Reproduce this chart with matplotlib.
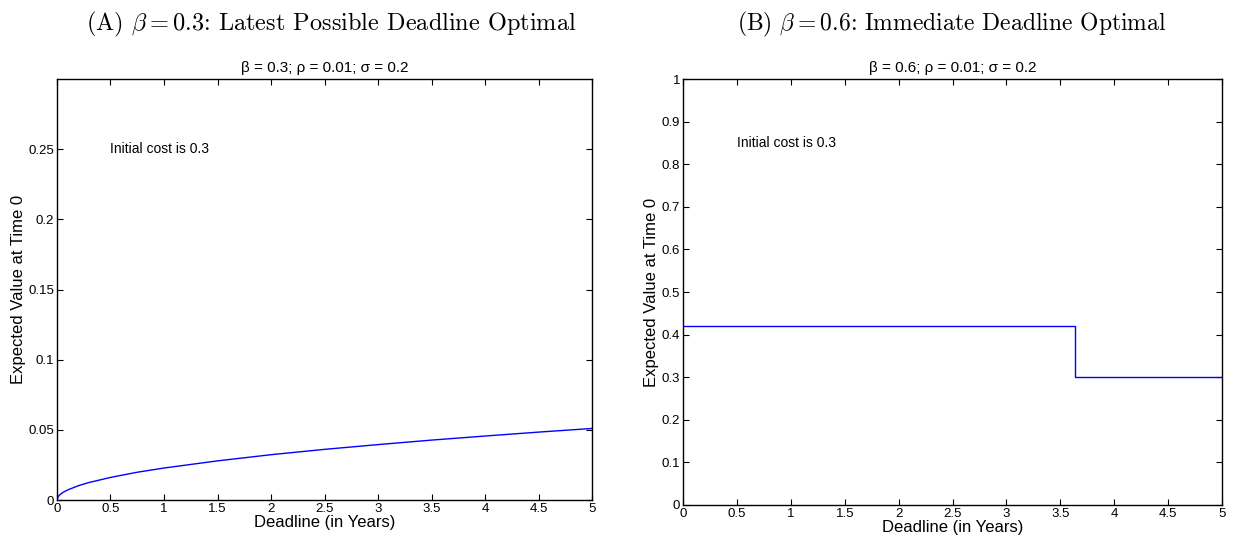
import numpy as np
import matplotlib
matplotlib.use("Agg")
import matplotlib.pyplot as plt

plt.rcParams['font.family'] = ['Liberation Sans', 'DejaVu Sans']
plt.rcParams['mathtext.fontset'] = 'cm'

# panel A: expected value vs deadline (beta = 0.3)
deadline_a = [0, 0.01, 0.03, 0.06, 0.1, 0.2, 0.3, 0.5, 0.75, 1, 1.5, 2, 2.5, 3, 3.5, 4, 4.5, 5]
value_a = [0, 0.0023, 0.004, 0.0056, 0.0072, 0.0102, 0.0125, 0.0161, 0.0198, 0.0228,
           0.0279, 0.0323, 0.0361, 0.0395, 0.0427, 0.0456, 0.0484, 0.051]

# panel B: step function (beta = 0.6)
deadline_b = [0, 3.64, 3.64, 5]
value_b = [0.42, 0.42, 0.30, 0.30]

xticks = [0, 0.5, 1, 1.5, 2, 2.5, 3, 3.5, 4, 4.5, 5]
yticks_a = [0, 0.05, 0.1, 0.15, 0.2, 0.25]
yticks_b = [0, 0.1, 0.2, 0.3, 0.4, 0.5, 0.6, 0.7, 0.8, 0.9, 1]

fig = plt.figure(figsize=(12.33, 5.46), dpi=100)
ax1 = fig.add_axes([0.0462, 0.0842, 0.4340, 0.7711])
ax2 = fig.add_axes([0.5540, 0.0751, 0.4371, 0.7802])


def style(ax, yticks, ylim):
    ax.set_xlim(0, 5)
    ax.set_ylim(*ylim)
    ax.set_xticks(xticks)
    ax.set_xticklabels([f"{t:g}" for t in xticks])
    ax.set_yticks(yticks)
    ax.set_yticklabels([f"{t:g}" for t in yticks])
    ax.tick_params(direction='in', top=True, right=True, labelsize=9.5, length=4, width=0.8, pad=2)
    for s in ax.spines.values():
        s.set_linewidth(1.0)
    ax.set_xlabel("Deadline (in Years)", fontsize=12, labelpad=0)
    ax.set_ylabel("Expected Value at Time 0", fontsize=12, labelpad=2)


ax1.plot(deadline_a, value_a, color='blue', lw=1)
style(ax1, yticks_a, (0, 0.3))
ax1.set_title("β = 0.3; ρ = 0.01; σ = 0.2", fontsize=11, pad=5)
ax1.text(0.5, 0.25, "Initial cost is 0.3", fontsize=10, va='center')

ax2.plot(deadline_b, value_b, color='blue', lw=1)
style(ax2, yticks_b, (0, 1))
ax2.set_title("β = 0.6; ρ = 0.01; σ = 0.2", fontsize=11, pad=5)
ax2.text(0.5, 0.85, "Initial cost is 0.3", fontsize=10, va='center')

fig.text(0.269, 0.955, r"(A) $\beta = 0.3$: Latest Possible Deadline Optimal",
         fontsize=17.5, ha='center', va='center', family='cmr10')
fig.text(0.772, 0.955, r"(B) $\beta = 0.6$: Immediate Deadline Optimal",
         fontsize=17, ha='center', va='center', family='cmr10')

fig.savefig("out.png", dpi=100)
